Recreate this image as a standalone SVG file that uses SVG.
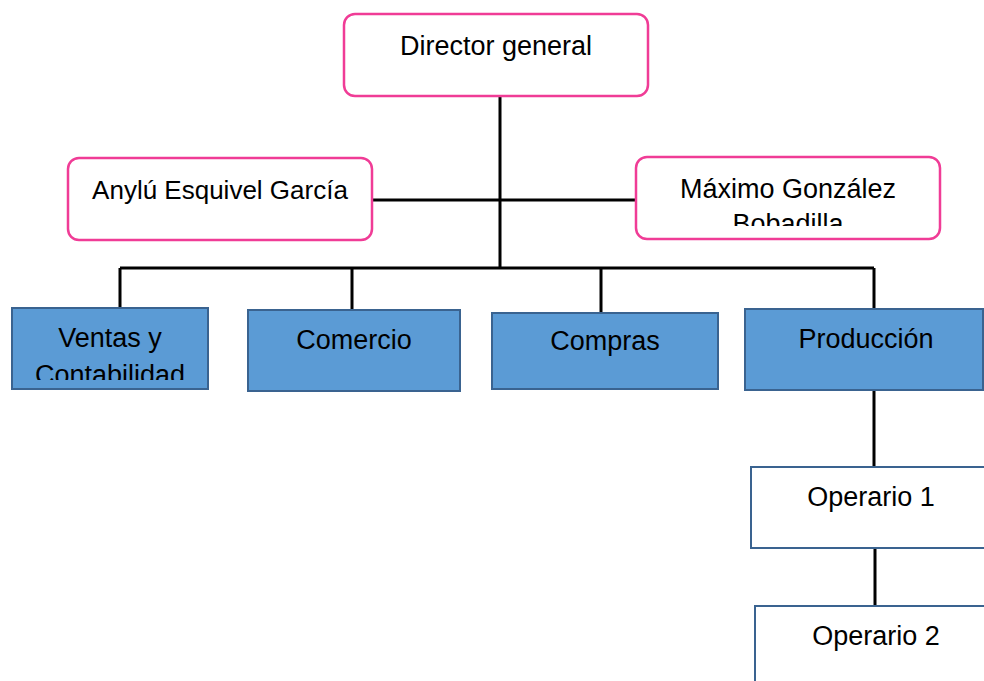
<svg xmlns="http://www.w3.org/2000/svg" width="984" height="681" viewBox="0 0 984 681">
<style>
.pink{fill:#fff;stroke:#F03C96;stroke-width:2.5}
.blue{fill:#5B9BD5;stroke:#3A6390;stroke-width:2}
.op{fill:#fff;stroke:#3A6390;stroke-width:2}
.t{font-family:"Liberation Sans",Arial,sans-serif;font-size:27px;fill:#000;text-anchor:middle}
.c{stroke:#000;stroke-width:3;fill:none}
</style>
<defs>
<clipPath id="clipMax"><rect x="636" y="157" width="304" height="69"/></clipPath>
<clipPath id="clipVen"><rect x="12" y="308" width="196" height="72"/></clipPath>
</defs>
<rect width="984" height="681" fill="#fff"/>
<g id="connectors">
<path class="c" d="M500 96V268M372 200H636M120 268H874M120 268V308M352 268V310M601 268V313M874 268V309M874 390V467M875 548V606"/>
</g>
<g id="director"><rect class="pink" x="344" y="14" width="304" height="82" rx="11"/><text class="t" x="496" y="55">Director general</text></g>
<g id="anylu"><rect class="pink" x="68" y="158" width="304" height="82" rx="11"/><text class="t" x="220" y="199" style="font-size:26px">Anylú Esquivel García</text></g>
<g id="maximo"><rect class="pink" x="636" y="157" width="304" height="82" rx="11"/><text class="t" clip-path="url(#clipMax)" x="788" y="198"><tspan x="788">Máximo González</tspan><tspan x="788" dy="35">Bobadilla</tspan></text></g>
<g id="ventas"><rect class="blue" x="12" y="308" width="196" height="81"/><text class="t" clip-path="url(#clipVen)" x="110" y="347"><tspan x="110">Ventas y</tspan><tspan x="110" dy="37">Contabilidad</tspan></text></g>
<g id="comercio"><rect class="blue" x="248" y="310" width="212" height="81"/><text class="t" x="354" y="349">Comercio</text></g>
<g id="compras"><rect class="blue" x="492" y="313" width="226" height="76"/><text class="t" x="605" y="350">Compras</text></g>
<g id="produccion"><rect class="blue" x="745" y="309" width="238" height="81"/><text class="t" x="866" y="348">Producción</text></g>
<g id="operario1"><rect class="op" x="751" y="467" width="260" height="81"/><text class="t" x="871" y="506">Operario 1</text></g>
<g id="operario2"><rect class="op" x="755" y="606" width="260" height="100"/><text class="t" x="876" y="645">Operario 2</text></g>
</svg>
